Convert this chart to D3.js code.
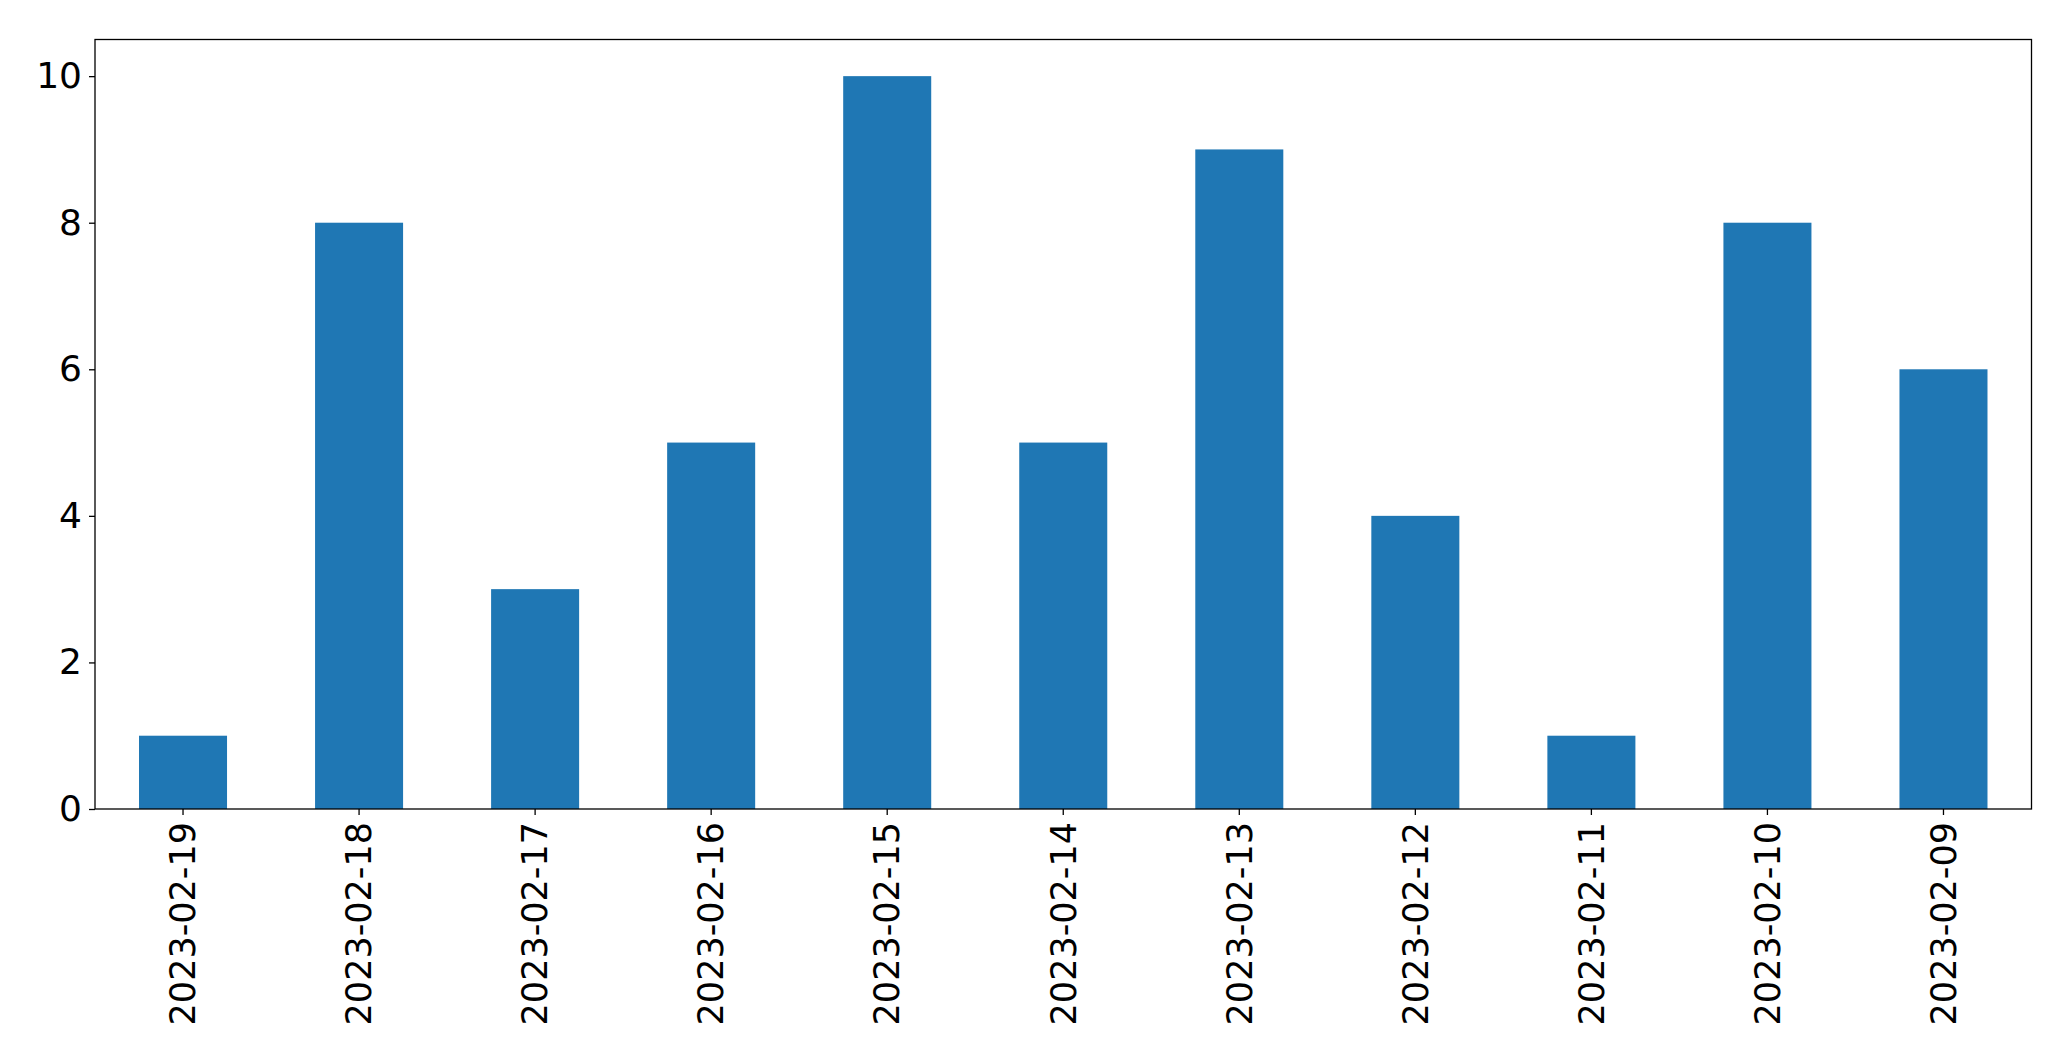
<!DOCTYPE html>
<html><head><meta charset="utf-8">
<script src="https://cdn.jsdelivr.net/npm/d3@7"></script>
<style>body{margin:0;background:#fff}svg{display:block}text{font-family:"DejaVu Sans",sans-serif}</style>
</head><body>
<script>
const categories = ["2023-02-19","2023-02-18","2023-02-17","2023-02-16","2023-02-15","2023-02-14","2023-02-13","2023-02-12","2023-02-11","2023-02-10","2023-02-09"];
const values = [1,8,3,5,10,5,9,4,1,8,6];
const yTicks = [0,2,4,6,8,10];

const W = 2071, H = 1061;
const m = {left:95, right:W-2031.5, top:39.5, bottom:H-809};
const svg = d3.select("body").append("svg").attr("width",W).attr("height",H);
const iw = W-m.left-m.right, ih = H-m.top-m.bottom;
const g = svg.append("g").attr("transform",`translate(${m.left},${m.top})`);

const x = d3.scaleBand().domain(categories).range([0,iw]).paddingInner(0.5).paddingOuter(0.25);
const y = d3.scaleLinear().domain([0,10.5]).range([ih,0]);

g.selectAll("rect.bar").data(values).join("rect")
  .attr("class","bar")
  .attr("x",(d,i)=>x(categories[i]))
  .attr("width",x.bandwidth())
  .attr("y",d=>y(d))
  .attr("height",d=>y(0)-y(d))
  .attr("fill","#1f77b4");

const fs = 35;
const yAxis = g.append("g").call(d3.axisLeft(y).tickValues(yTicks).tickSize(6).tickPadding(7).tickFormat(d3.format("d")));
yAxis.select(".domain").remove();
yAxis.selectAll("text").attr("font-size",fs+1).attr("fill","#000").attr("font-family","DejaVu Sans");
yAxis.selectAll("line").attr("stroke","#000").attr("stroke-width",1.3);

const xAxis = g.append("g").attr("transform",`translate(0,${ih})`).call(d3.axisBottom(x).tickSize(6).tickPadding(0));
xAxis.select(".domain").remove();
xAxis.selectAll("line").attr("stroke","#000").attr("stroke-width",1.3);
xAxis.selectAll("text").attr("font-size",fs).attr("fill","#000").attr("font-family","DejaVu Sans")
  .attr("transform","rotate(-90)")
  .attr("text-anchor","end")
  .attr("x",-13).attr("y",0).attr("dy","0.35em");

g.append("rect").attr("x",0).attr("y",0).attr("width",iw).attr("height",ih)
  .attr("fill","none").attr("stroke","#000").attr("stroke-width",1.3);
</script>
</body></html>
